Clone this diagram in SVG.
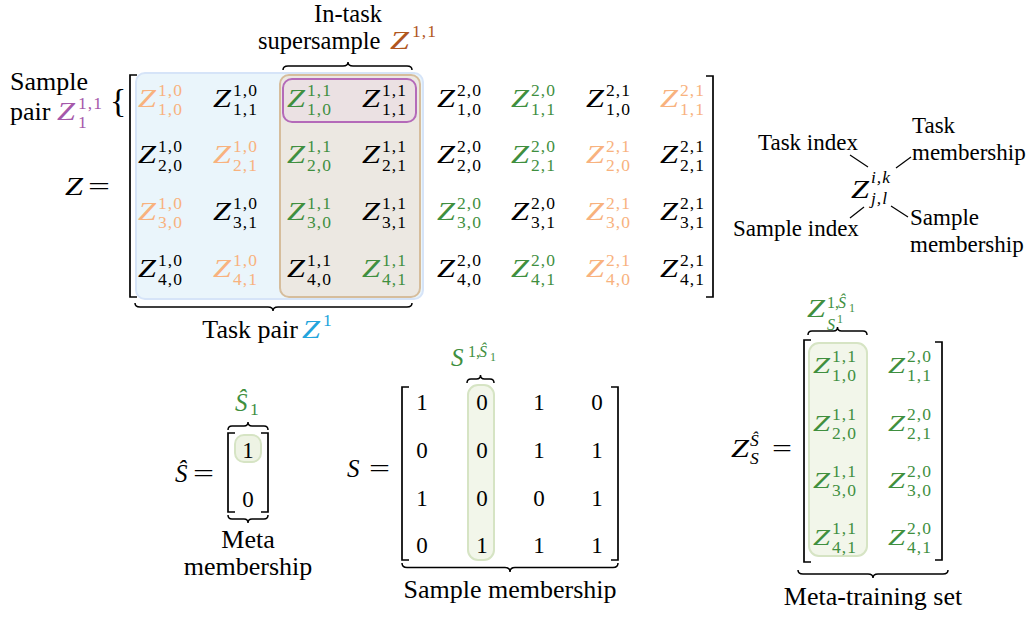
<svg xmlns="http://www.w3.org/2000/svg" width="1032" height="617" viewBox="0 0 1032 617">
<style>
text{font-family:"Liberation Serif","Times New Roman",serif}
.t{font-size:26px;fill:#000}
.tt{font-size:24.5px;fill:#000}
.a{font-size:23px;fill:#000}
.mz{font-style:italic;font-size:25px}
.mzs{font-style:italic;font-size:23px}
.ms{font-size:17.5px;letter-spacing:1px}
.mss{font-size:16px}
.mi{font-style:italic}
.md{font-size:23px;text-anchor:middle;fill:#000}
.br{fill:none;stroke:#000;stroke-width:1.7}
.bc{fill:none;stroke:#000;stroke-width:1.5}
.ln{stroke:#000;stroke-width:1.2}
.o{fill:#f8b27e}.g{fill:#3f8f3f}.k{fill:#000}.p{fill:#a558aa}.b{fill:#b0561e}.c{fill:#22a4dc}
</style>

<!-- highlight boxes -->
<g id="task-pair-box"><rect x="136" y="73" width="287" height="226" rx="9" fill="#eaf5fb" stroke="#d6e4f8" stroke-width="2"/></g>
<g id="supersample-box"><rect x="280" y="75" width="140" height="222" rx="9" fill="#ece8e2" stroke="#d6bd9c" stroke-width="2"/></g>
<g id="sample-pair-box"><rect x="283" y="79" width="133" height="43" rx="9" fill="#ebe1e3" stroke="#b46ab9" stroke-width="2"/></g>

<!-- titles -->
<g id="title-supersample">
<text class="tt" x="348" y="22" text-anchor="middle">In-task</text>
<text class="tt" x="258" y="49">supersample</text>
<g class="b"><text class="mz" x="390" y="49" textLength="19" lengthAdjust="spacingAndGlyphs">Z</text><text class="ms" x="412" y="37">1,1</text></g>
</g>
<g id="label-sample-pair">
<text class="t" x="10" y="90">Sample</text>
<text class="t" x="10" y="120">pair</text>
<g class="p"><text class="mz" x="57" y="120" textLength="18" lengthAdjust="spacingAndGlyphs">Z</text><text class="ms" x="78" y="109">1,1</text><text class="ms" x="78" y="128">1</text></g>
<text x="110" y="112" style="font-size:34px">{</text>
</g>
<g id="label-Z">
<text class="mz" x="65" y="195" textLength="18" lengthAdjust="spacingAndGlyphs">Z</text>
<text x="88" y="195" style="font-size:25px" textLength="22" lengthAdjust="spacingAndGlyphs">=</text>
</g>

<!-- main matrix -->
<g id="matrix-Z">
<path class="br" d="M137,75 H130 V297 H137 M706,76 H713 V297 H706"/>
<!-- row 1 -->
<g class="o" transform="translate(138,107)"><text class="mz" textLength="18" lengthAdjust="spacingAndGlyphs">Z</text><text class="ms" x="20" y="-11">1,0</text><text class="ms" x="20" y="8">1,0</text></g>
<g class="k" transform="translate(213,107)"><text class="mz" textLength="18" lengthAdjust="spacingAndGlyphs">Z</text><text class="ms" x="20" y="-11">1,0</text><text class="ms" x="20" y="8">1,1</text></g>
<g class="g" transform="translate(287,107)"><text class="mz" textLength="18" lengthAdjust="spacingAndGlyphs">Z</text><text class="ms" x="20" y="-11">1,1</text><text class="ms" x="20" y="8">1,0</text></g>
<g class="k" transform="translate(362,107)"><text class="mz" textLength="18" lengthAdjust="spacingAndGlyphs">Z</text><text class="ms" x="20" y="-11">1,1</text><text class="ms" x="20" y="8">1,1</text></g>
<g class="k" transform="translate(437,107)"><text class="mz" textLength="18" lengthAdjust="spacingAndGlyphs">Z</text><text class="ms" x="20" y="-11">2,0</text><text class="ms" x="20" y="8">1,0</text></g>
<g class="g" transform="translate(511,107)"><text class="mz" textLength="18" lengthAdjust="spacingAndGlyphs">Z</text><text class="ms" x="20" y="-11">2,0</text><text class="ms" x="20" y="8">1,1</text></g>
<g class="k" transform="translate(586,107)"><text class="mz" textLength="18" lengthAdjust="spacingAndGlyphs">Z</text><text class="ms" x="20" y="-11">2,1</text><text class="ms" x="20" y="8">1,0</text></g>
<g class="o" transform="translate(660,107)"><text class="mz" textLength="18" lengthAdjust="spacingAndGlyphs">Z</text><text class="ms" x="20" y="-11">2,1</text><text class="ms" x="20" y="8">1,1</text></g>
<!-- row 2 -->
<g class="k" transform="translate(138,163)"><text class="mz" textLength="18" lengthAdjust="spacingAndGlyphs">Z</text><text class="ms" x="20" y="-11">1,0</text><text class="ms" x="20" y="8">2,0</text></g>
<g class="o" transform="translate(213,163)"><text class="mz" textLength="18" lengthAdjust="spacingAndGlyphs">Z</text><text class="ms" x="20" y="-11">1,0</text><text class="ms" x="20" y="8">2,1</text></g>
<g class="g" transform="translate(287,163)"><text class="mz" textLength="18" lengthAdjust="spacingAndGlyphs">Z</text><text class="ms" x="20" y="-11">1,1</text><text class="ms" x="20" y="8">2,0</text></g>
<g class="k" transform="translate(362,163)"><text class="mz" textLength="18" lengthAdjust="spacingAndGlyphs">Z</text><text class="ms" x="20" y="-11">1,1</text><text class="ms" x="20" y="8">2,1</text></g>
<g class="k" transform="translate(437,163)"><text class="mz" textLength="18" lengthAdjust="spacingAndGlyphs">Z</text><text class="ms" x="20" y="-11">2,0</text><text class="ms" x="20" y="8">2,0</text></g>
<g class="g" transform="translate(511,163)"><text class="mz" textLength="18" lengthAdjust="spacingAndGlyphs">Z</text><text class="ms" x="20" y="-11">2,0</text><text class="ms" x="20" y="8">2,1</text></g>
<g class="o" transform="translate(586,163)"><text class="mz" textLength="18" lengthAdjust="spacingAndGlyphs">Z</text><text class="ms" x="20" y="-11">2,1</text><text class="ms" x="20" y="8">2,0</text></g>
<g class="k" transform="translate(660,163)"><text class="mz" textLength="18" lengthAdjust="spacingAndGlyphs">Z</text><text class="ms" x="20" y="-11">2,1</text><text class="ms" x="20" y="8">2,1</text></g>
<!-- row 3 -->
<g class="o" transform="translate(138,220)"><text class="mz" textLength="18" lengthAdjust="spacingAndGlyphs">Z</text><text class="ms" x="20" y="-11">1,0</text><text class="ms" x="20" y="8">3,0</text></g>
<g class="k" transform="translate(213,220)"><text class="mz" textLength="18" lengthAdjust="spacingAndGlyphs">Z</text><text class="ms" x="20" y="-11">1,0</text><text class="ms" x="20" y="8">3,1</text></g>
<g class="g" transform="translate(287,220)"><text class="mz" textLength="18" lengthAdjust="spacingAndGlyphs">Z</text><text class="ms" x="20" y="-11">1,1</text><text class="ms" x="20" y="8">3,0</text></g>
<g class="k" transform="translate(362,220)"><text class="mz" textLength="18" lengthAdjust="spacingAndGlyphs">Z</text><text class="ms" x="20" y="-11">1,1</text><text class="ms" x="20" y="8">3,1</text></g>
<g class="g" transform="translate(437,220)"><text class="mz" textLength="18" lengthAdjust="spacingAndGlyphs">Z</text><text class="ms" x="20" y="-11">2,0</text><text class="ms" x="20" y="8">3,0</text></g>
<g class="k" transform="translate(511,220)"><text class="mz" textLength="18" lengthAdjust="spacingAndGlyphs">Z</text><text class="ms" x="20" y="-11">2,0</text><text class="ms" x="20" y="8">3,1</text></g>
<g class="o" transform="translate(586,220)"><text class="mz" textLength="18" lengthAdjust="spacingAndGlyphs">Z</text><text class="ms" x="20" y="-11">2,1</text><text class="ms" x="20" y="8">3,0</text></g>
<g class="k" transform="translate(660,220)"><text class="mz" textLength="18" lengthAdjust="spacingAndGlyphs">Z</text><text class="ms" x="20" y="-11">2,1</text><text class="ms" x="20" y="8">3,1</text></g>
<!-- row 4 -->
<g class="k" transform="translate(138,277)"><text class="mz" textLength="18" lengthAdjust="spacingAndGlyphs">Z</text><text class="ms" x="20" y="-11">1,0</text><text class="ms" x="20" y="8">4,0</text></g>
<g class="o" transform="translate(213,277)"><text class="mz" textLength="18" lengthAdjust="spacingAndGlyphs">Z</text><text class="ms" x="20" y="-11">1,0</text><text class="ms" x="20" y="8">4,1</text></g>
<g class="k" transform="translate(287,277)"><text class="mz" textLength="18" lengthAdjust="spacingAndGlyphs">Z</text><text class="ms" x="20" y="-11">1,1</text><text class="ms" x="20" y="8">4,0</text></g>
<g class="g" transform="translate(362,277)"><text class="mz" textLength="18" lengthAdjust="spacingAndGlyphs">Z</text><text class="ms" x="20" y="-11">1,1</text><text class="ms" x="20" y="8">4,1</text></g>
<g class="k" transform="translate(437,277)"><text class="mz" textLength="18" lengthAdjust="spacingAndGlyphs">Z</text><text class="ms" x="20" y="-11">2,0</text><text class="ms" x="20" y="8">4,0</text></g>
<g class="g" transform="translate(511,277)"><text class="mz" textLength="18" lengthAdjust="spacingAndGlyphs">Z</text><text class="ms" x="20" y="-11">2,0</text><text class="ms" x="20" y="8">4,1</text></g>
<g class="o" transform="translate(586,277)"><text class="mz" textLength="18" lengthAdjust="spacingAndGlyphs">Z</text><text class="ms" x="20" y="-11">2,1</text><text class="ms" x="20" y="8">4,0</text></g>
<g class="k" transform="translate(660,277)"><text class="mz" textLength="18" lengthAdjust="spacingAndGlyphs">Z</text><text class="ms" x="20" y="-11">2,1</text><text class="ms" x="20" y="8">4,1</text></g>
</g>

<g id="label-task-pair">
<text class="t" x="298" y="338" text-anchor="end">Task pair</text>
<g class="c"><text class="mz" x="302" y="338" textLength="18" lengthAdjust="spacingAndGlyphs">Z</text><text class="ms" x="323" y="326">1</text></g>
</g>

<!-- index legend -->
<g id="legend">
<g class="k"><text class="mz" x="851" y="198" textLength="18" lengthAdjust="spacingAndGlyphs">Z</text><text class="ms mi" x="871" y="183">i,k</text><text class="ms mi" x="871" y="204">j,l</text></g>
<text class="a" x="758" y="150">Task index</text>
<text class="a" x="912" y="133">Task</text>
<text class="a" x="912" y="160">membership</text>
<text class="a" x="733" y="236">Sample index</text>
<text class="a" x="910" y="225">Sample</text>
<text class="a" x="910" y="252">membership</text>
</g>

<!-- S hat vector -->
<g id="vector-Shat">
<rect x="235" y="435" width="26" height="27" rx="9" fill="#eef3e4" stroke="#d6e4c4" stroke-width="2"/>
<path class="br" d="M235,433 H228 V512 H235 M261,433 H268 V512 H261"/>
<text class="md" x="248" y="458">1</text>
<text class="md" x="248" y="507">0</text>
<text class="mz" x="175" y="482">Ŝ</text>
<text x="193" y="482" style="font-size:25px" textLength="21" lengthAdjust="spacingAndGlyphs">=</text>
<g class="g"><text class="mz" x="235" y="411">Ŝ</text><text class="ms" x="250" y="415">1</text></g>
<text class="t" x="248" y="548" text-anchor="middle">Meta</text>
<text class="t" x="248" y="575" text-anchor="middle">membership</text>
</g>

<!-- S matrix -->
<g id="matrix-S">
<rect x="468" y="385" width="26" height="175" rx="10" fill="#f2f6ea" stroke="#d6e4c4" stroke-width="2"/>
<path class="br" d="M409,387 H402 V560 H409 M611,387 H618 V560 H611"/>
<text class="md" x="422" y="410">1</text><text class="md" x="482" y="410">0</text><text class="md" x="539" y="410">1</text><text class="md" x="597" y="410">0</text>
<text class="md" x="422" y="458">0</text><text class="md" x="482" y="458">0</text><text class="md" x="539" y="458">1</text><text class="md" x="597" y="458">1</text>
<text class="md" x="422" y="506">1</text><text class="md" x="482" y="506">0</text><text class="md" x="539" y="506">0</text><text class="md" x="597" y="506">1</text>
<text class="md" x="422" y="553">0</text><text class="md" x="482" y="553">1</text><text class="md" x="539" y="553">1</text><text class="md" x="597" y="553">1</text>
<text class="mz" x="347" y="477">S</text>
<text x="369" y="477" style="font-size:25px" textLength="21" lengthAdjust="spacingAndGlyphs">=</text>
<g class="g"><text class="mz" x="451" y="366">S</text><text class="mss" x="468" y="357">1,</text><text class="mss mi" x="479" y="357">Ŝ</text><text style="font-size:12px" x="490" y="361">1</text></g>
<text class="t" x="510" y="598" text-anchor="middle">Sample membership</text>
</g>

<!-- Z_S matrix -->
<g id="matrix-ZS">
<rect x="809" y="343" width="58" height="213" rx="10" fill="#f2f6ea" stroke="#d6e4c4" stroke-width="2"/>
<path class="br" d="M811,340 H804 V562 H811 M935,342 H942 V560 H935"/>
<g class="g" transform="translate(813,373)"><text class="mzs" textLength="17" lengthAdjust="spacingAndGlyphs">Z</text><text class="ms" x="19" y="-11">1,1</text><text class="ms" x="19" y="8">1,0</text></g>
<g class="g" transform="translate(888,373)"><text class="mzs" textLength="17" lengthAdjust="spacingAndGlyphs">Z</text><text class="ms" x="19" y="-11">2,0</text><text class="ms" x="19" y="8">1,1</text></g>
<g class="g" transform="translate(813,431)"><text class="mzs" textLength="17" lengthAdjust="spacingAndGlyphs">Z</text><text class="ms" x="19" y="-11">1,1</text><text class="ms" x="19" y="8">2,0</text></g>
<g class="g" transform="translate(888,431)"><text class="mzs" textLength="17" lengthAdjust="spacingAndGlyphs">Z</text><text class="ms" x="19" y="-11">2,0</text><text class="ms" x="19" y="8">2,1</text></g>
<g class="g" transform="translate(813,488)"><text class="mzs" textLength="17" lengthAdjust="spacingAndGlyphs">Z</text><text class="ms" x="19" y="-11">1,1</text><text class="ms" x="19" y="8">3,0</text></g>
<g class="g" transform="translate(888,488)"><text class="mzs" textLength="17" lengthAdjust="spacingAndGlyphs">Z</text><text class="ms" x="19" y="-11">2,0</text><text class="ms" x="19" y="8">3,0</text></g>
<g class="g" transform="translate(813,545)"><text class="mzs" textLength="17" lengthAdjust="spacingAndGlyphs">Z</text><text class="ms" x="19" y="-11">1,1</text><text class="ms" x="19" y="8">4,1</text></g>
<g class="g" transform="translate(888,545)"><text class="mzs" textLength="17" lengthAdjust="spacingAndGlyphs">Z</text><text class="ms" x="19" y="-11">2,0</text><text class="ms" x="19" y="8">4,1</text></g>
<g class="k"><text class="mz" x="731" y="457" textLength="18" lengthAdjust="spacingAndGlyphs">Z</text><text class="ms mi" x="750" y="446">Ŝ</text><text class="ms mi" x="750" y="464">S</text></g>
<text x="772" y="457" style="font-size:25px" textLength="20" lengthAdjust="spacingAndGlyphs">=</text>
<g class="g"><text class="mz" x="807" y="317" textLength="18" lengthAdjust="spacingAndGlyphs">Z</text><text class="mss" x="827" y="308">1,</text><text class="mss mi" x="838" y="308">Ŝ</text><text style="font-size:12px" x="849" y="312">1</text><text class="mss mi" x="827" y="330">S</text><text style="font-size:12px" x="837" y="323">1</text></g>
<text class="t" x="873" y="605" text-anchor="middle">Meta-training set</text>
</g>

<!-- braces -->
<g id="braces">
<path class="bc" d="M283,70 Q283,66 288,66 H343 Q348,66 348,62 Q348,66 353,66 H407 Q412,66 412,70"/>
<path class="bc" d="M135,303 Q135,307 140,307 H268 Q273,307 273,311 Q273,307 278,307 H407 Q412,307 412,303"/>
<path class="bc" d="M228,430 Q228,426 232,426 H244 Q248,426 248,422 Q248,426 252,426 H264 Q268,426 268,430"/>
<path class="bc" d="M228,515 Q228,519 232,519 H244 Q248,519 248,523 Q248,519 252,519 H264 Q268,519 268,515"/>
<path class="bc" d="M467,383 Q467,379 471,379 H476.5 Q480.5,379 480.5,375 Q480.5,379 484.5,379 H490 Q494,379 494,383"/>
<path class="bc" d="M402,563 Q402,567.5 407,567.5 H505 Q510,567.5 510,572 Q510,567.5 515,567.5 H613 Q618,567.5 618,563"/>
<path class="bc" d="M808,335 Q808,331 812,331 H833.5 Q837.5,331 837.5,327 Q837.5,331 841.5,331 H863 Q867,331 867,335"/>
<path class="bc" d="M798,570 Q798,574 803,574 H868 Q873,574 873,578 Q873,574 878,574 H943 Q948,574 948,570"/>
</g>

<!-- connectors -->
<g id="connectors">
<line class="ln" x1="850" y1="155" x2="868" y2="167"/>
<line class="ln" x1="896" y1="168" x2="911" y2="157"/>
<line class="ln" x1="850" y1="218" x2="864" y2="207"/>
<line class="ln" x1="891" y1="206" x2="908" y2="217"/>
</g>
</svg>
